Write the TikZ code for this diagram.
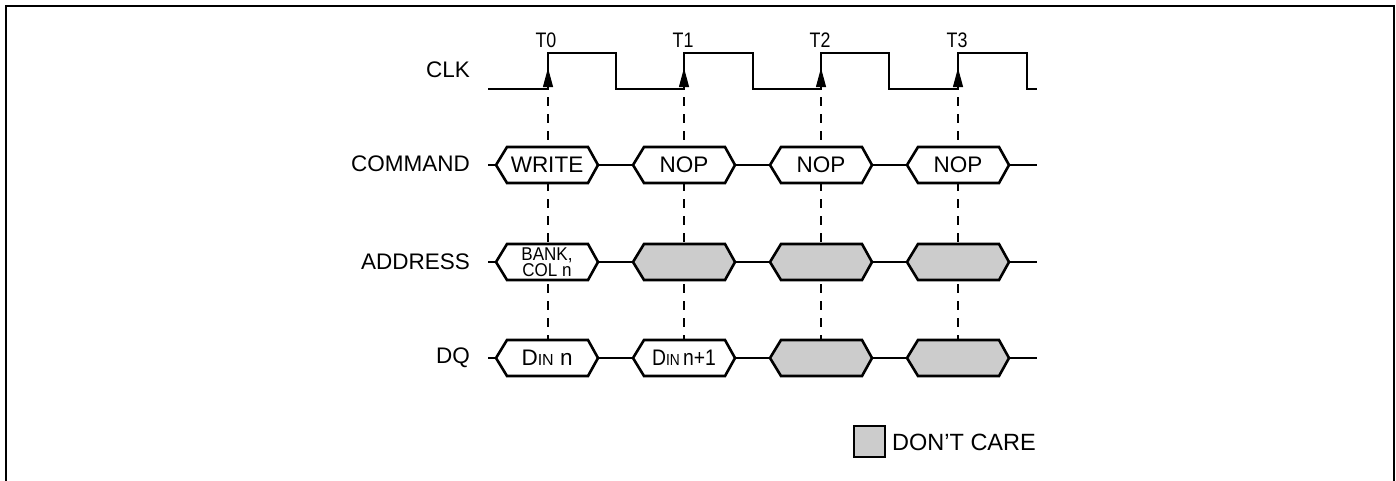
\documentclass[tikz,border=0pt]{standalone}
\usepackage{fontspec}
\setmainfont{Liberation Sans}
\usetikzlibrary{arrows.meta}
\definecolor{dcgray}{HTML}{CCCCCC}
\newcommand\dinsub{{\fontsize{16}{16}\selectfont IN}}
\tikzset{
  sig/.style={line width=2.6pt, line join=miter},
  guide/.style={line width=1.8pt, dash pattern=on 9pt off 8pt},
  lbl/.style={font=\fontsize{22.5}{26}\selectfont, inner sep=0pt},
  tlbl/.style={font=\fontsize{21}{24}\selectfont, inner sep=0pt},
  hexlbl/.style={font=\fontsize{22.5}{26}\selectfont, inner sep=0pt, align=center},
  smalltwo/.style={font=\fontsize{18.5}{14.5}\selectfont},
}
% \hexa[style]{name}{cx}{cy}{fill}{text}
\newcommand\hexa[6][]{%
  \draw[sig, fill=#5] (#3-51,#4) -- (#3-40,#4-18) -- (#3+41,#4-18) -- (#3+51,#4)
     -- (#3+41,#4+18) -- (#3-40,#4+18) -- cycle;
  \node[hexlbl,#1] (#2) at (#3,#4) {#6};}
\begin{document}
\begin{tikzpicture}[x=1pt,y=-1pt]
\useasboundingbox (0,0) rectangle (1396,480);
\fill[white] (0,0) rectangle (1396,480);
% frame
\draw[line width=2.6pt] (6,490) -- (6,6) -- (1394,6) -- (1394,490);

% row labels
\node[lbl, anchor=east] (lclk) at (470,70) {CLK};
\node[lbl, anchor=east] (lcmd) at (470,164) {COMMAND};
\node[lbl, anchor=east] (ladr) at (470,262) {ADDRESS};
\node[lbl, anchor=east] (ldq) at (470,358) {DQ};

% clock edge coordinates
\coordinate (e0) at (548,89);
\coordinate (e1) at (684,89);
\coordinate (e2) at (821,89);
\coordinate (e3) at (958,89);
\coordinate (d0) at (548,340);
\coordinate (d1) at (684,340);
\coordinate (d2) at (821,340);
\coordinate (d3) at (958,340);

% time labels
\node[tlbl] (t0) at (546,40) {\scalebox{0.85}[1]{T0}};
\node[tlbl] (t1) at (683,40) {\scalebox{0.85}[1]{T1}};
\node[tlbl] (t2) at (820,40) {\scalebox{0.85}[1]{T2}};
\node[tlbl] (t3) at (957,40) {\scalebox{0.85}[1]{T3}};

% dashed guides
\foreach \i in {0,1,2,3} {
  \draw[guide] ([yshift=-8pt]e\i) -- (d\i);
}

% clock
\draw[sig] (488,89) -- (548,89) -- (548,53) -- (616,53) -- (616,89) -- (684,89)
  -- (684,53) -- (753,53) -- (753,89) -- (821,89) -- (821,53) -- (889,53)
  -- (889,89) -- (958,89) -- (958,53) -- (1027,53) -- (1027,89) -- (1037,89);
\foreach \i in {0,1,2,3} {
  \draw[line width=1pt, -{Triangle[length=19pt,width=10pt]}] (e\i) -- ++(0,-21);
}

% bus base lines
\draw[sig] (488,165) -- (1037,165);
\draw[sig] (488,262) -- (1037,262);
\draw[sig] (488,358) -- (1037,358);

% COMMAND
\hexa{c0}{547}{165}{white}{WRITE}
\hexa{c1}{684}{165}{white}{NOP}
\hexa{c2}{821}{165}{white}{NOP}
\hexa{c3}{958}{165}{white}{NOP}

% ADDRESS
\hexa[smalltwo]{a0}{547}{262}{white}{\scalebox{0.92}[1]{BANK,}\\\scalebox{0.92}[1]{COL n}}
\hexa{a1}{684}{262}{dcgray}{}
\hexa{a2}{821}{262}{dcgray}{}
\hexa{a3}{958}{262}{dcgray}{}

% DQ
\hexa{q0}{547}{358}{white}{D\dinsub\ n}
\hexa{q1}{684}{358}{white}{\scalebox{0.86}[1]{D\dinsub\,n+1}}
\hexa{q2}{821}{358}{dcgray}{}
\hexa{q3}{958}{358}{dcgray}{}

% legend
\draw[sig, fill=dcgray] (854,426) rectangle (885,457);
\node[lbl, anchor=west, font=\fontsize{23.5}{26}\selectfont] (dc) at (892,442) {DON{\char"0027}T CARE};
\end{tikzpicture}
\end{document}
